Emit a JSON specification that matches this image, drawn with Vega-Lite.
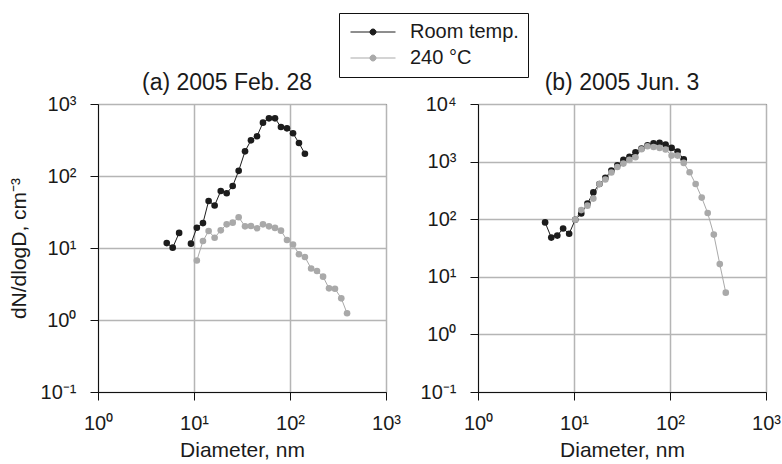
{
  "$schema": "https://vega.github.io/schema/vega-lite/v6.json",
  "padding": {"left": 7, "top": 12, "right": 5, "bottom": 2},
  "background": "white",
  "datasets": {
    "a": [
      {"temp": "Room temp.", "d": 5.2, "n": 11.7},
      {"temp": "Room temp.", "d": 6.0, "n": 10.1},
      {"temp": "Room temp.", "d": 7.0, "n": 16.2},
      {"temp": "Room temp.", "d": 8.1, "n": null},
      {"temp": "Room temp.", "d": 9.3, "n": 11.5},
      {"temp": "Room temp.", "d": 10.7, "n": 19.1},
      {"temp": "Room temp.", "d": 12.4, "n": 22.2},
      {"temp": "Room temp.", "d": 14.2, "n": 45},
      {"temp": "Room temp.", "d": 16.4, "n": 39},
      {"temp": "Room temp.", "d": 19.0, "n": 62},
      {"temp": "Room temp.", "d": 21.9, "n": 57.5},
      {"temp": "Room temp.", "d": 25.3, "n": 72.6},
      {"temp": "Room temp.", "d": 29.2, "n": 118},
      {"temp": "Room temp.", "d": 34.0, "n": 220},
      {"temp": "Room temp.", "d": 39.2, "n": 313},
      {"temp": "Room temp.", "d": 45.3, "n": 356},
      {"temp": "Room temp.", "d": 52.3, "n": 551},
      {"temp": "Room temp.", "d": 60.4, "n": 632},
      {"temp": "Room temp.", "d": 69.8, "n": 632},
      {"temp": "Room temp.", "d": 80.5, "n": 479},
      {"temp": "Room temp.", "d": 93, "n": 459},
      {"temp": "Room temp.", "d": 107.5, "n": 392},
      {"temp": "Room temp.", "d": 124, "n": 287},
      {"temp": "Room temp.", "d": 143, "n": 204},
      {"temp": "240 °C", "d": 10.7, "n": 6.7},
      {"temp": "240 °C", "d": 12.4, "n": 12.5},
      {"temp": "240 °C", "d": 14.2, "n": 17.2},
      {"temp": "240 °C", "d": 16.4, "n": 13.9},
      {"temp": "240 °C", "d": 19.0, "n": 17.6},
      {"temp": "240 °C", "d": 21.9, "n": 21.3},
      {"temp": "240 °C", "d": 25.3, "n": 22.5},
      {"temp": "240 °C", "d": 29.2, "n": 26.7},
      {"temp": "240 °C", "d": 34.0, "n": 20},
      {"temp": "240 °C", "d": 39.2, "n": 20.2},
      {"temp": "240 °C", "d": 45.3, "n": 18.8},
      {"temp": "240 °C", "d": 52.3, "n": 21.3},
      {"temp": "240 °C", "d": 60.4, "n": 20},
      {"temp": "240 °C", "d": 69.8, "n": 19},
      {"temp": "240 °C", "d": 80.5, "n": 17.4},
      {"temp": "240 °C", "d": 93, "n": 12.9},
      {"temp": "240 °C", "d": 107.5, "n": 11.2},
      {"temp": "240 °C", "d": 124, "n": 8.2},
      {"temp": "240 °C", "d": 143, "n": 7.5},
      {"temp": "240 °C", "d": 166, "n": 5.2},
      {"temp": "240 °C", "d": 191, "n": 4.8},
      {"temp": "240 °C", "d": 221, "n": 4.0},
      {"temp": "240 °C", "d": 255, "n": 2.75},
      {"temp": "240 °C", "d": 294, "n": 2.72},
      {"temp": "240 °C", "d": 342, "n": 2.0},
      {"temp": "240 °C", "d": 393, "n": 1.24}
    ],
    "b": [
      {"temp": "Room temp.", "d": 5.0, "n": 88},
      {"temp": "Room temp.", "d": 5.8, "n": 48},
      {"temp": "Room temp.", "d": 6.7, "n": 52},
      {"temp": "Room temp.", "d": 7.7, "n": 69},
      {"temp": "Room temp.", "d": 8.9, "n": 56},
      {"temp": "Room temp.", "d": 10.3, "n": 98},
      {"temp": "Room temp.", "d": 11.9, "n": 126},
      {"temp": "Room temp.", "d": 13.8, "n": 186},
      {"temp": "Room temp.", "d": 15.9, "n": 292},
      {"temp": "Room temp.", "d": 18.4, "n": 409},
      {"temp": "Room temp.", "d": 21.2, "n": 521},
      {"temp": "Room temp.", "d": 24.5, "n": 697},
      {"temp": "Room temp.", "d": 28.3, "n": 863},
      {"temp": "Room temp.", "d": 32.7, "n": 1070},
      {"temp": "Room temp.", "d": 37.8, "n": 1208},
      {"temp": "Room temp.", "d": 43.7, "n": 1452},
      {"temp": "Room temp.", "d": 50.5, "n": 1684},
      {"temp": "Room temp.", "d": 58.3, "n": 1919},
      {"temp": "Room temp.", "d": 67.4, "n": 2080},
      {"temp": "Room temp.", "d": 77.9, "n": 2113},
      {"temp": "Room temp.", "d": 90, "n": 1977},
      {"temp": "Room temp.", "d": 104, "n": 1730},
      {"temp": "Room temp.", "d": 120, "n": 1493},
      {"temp": "Room temp.", "d": 139, "n": 1096},
      {"temp": "240 °C", "d": 10.3, "n": 98},
      {"temp": "240 °C", "d": 11.9, "n": 144},
      {"temp": "240 °C", "d": 13.8, "n": 172},
      {"temp": "240 °C", "d": 15.9, "n": 228},
      {"temp": "240 °C", "d": 18.4, "n": 409},
      {"temp": "240 °C", "d": 21.2, "n": 490},
      {"temp": "240 °C", "d": 24.5, "n": 646},
      {"temp": "240 °C", "d": 28.3, "n": 807},
      {"temp": "240 °C", "d": 32.7, "n": 923},
      {"temp": "240 °C", "d": 37.8, "n": 1069},
      {"temp": "240 °C", "d": 43.7, "n": 1189},
      {"temp": "240 °C", "d": 50.5, "n": 1637},
      {"temp": "240 °C", "d": 58.3, "n": 1845},
      {"temp": "240 °C", "d": 67.4, "n": 1795},
      {"temp": "240 °C", "d": 77.9, "n": 1730},
      {"temp": "240 °C", "d": 90, "n": 1619},
      {"temp": "240 °C", "d": 104, "n": 1271},
      {"temp": "240 °C", "d": 120, "n": 1271},
      {"temp": "240 °C", "d": 139, "n": 948},
      {"temp": "240 °C", "d": 160, "n": 652},
      {"temp": "240 °C", "d": 185, "n": 409},
      {"temp": "240 °C", "d": 214, "n": 237},
      {"temp": "240 °C", "d": 247, "n": 128},
      {"temp": "240 °C", "d": 286, "n": 54},
      {"temp": "240 °C", "d": 330, "n": 16.6},
      {"temp": "240 °C", "d": 381, "n": 5.3}
    ]
  },
  "bounds": "flush",
  "spacing": 92,
  "hconcat": [
    {
      "width": 288,
      "height": 288,
      "data": {"name": "a"},
      "title": {"text": "(a) 2005 Feb. 28", "dx": -15},
      "mark": {"type": "line", "strokeWidth": 1, "invalid": "break-paths-show-domains", "point": {"filled": true, "size": 44, "opacity": 1}},
      "encoding": {
        "x": {"field": "d", "type": "quantitative", "scale": {"type": "log", "domain": [1, 1000]}, "axis": {"values": [1, 10, 100, 1000], "title": "Diameter, nm"}},
        "y": {"field": "n", "type": "quantitative", "scale": {"type": "log", "domain": [0.1, 1000]}, "axis": {"values": [0.1, 1, 10, 100, 1000], "title": "dN/dlogD, cm⁻³", "titleX": -79, "titleBaseline": "middle"}},
        "color": {"field": "temp", "type": "nominal", "scale": {"domain": ["Room temp.", "240 °C"], "range": ["#1c1c1c", "#a9a9a9"]},
          "legend": {"title": null, "orient": "none", "legendX": 241, "legendY": -91}}
      }
    },
    {
      "width": 288,
      "height": 288,
      "data": {"name": "b"},
      "title": {"text": "(b) 2005 Jun. 3"},
      "mark": {"type": "line", "strokeWidth": 1, "point": {"filled": true, "size": 44, "opacity": 1}},
      "encoding": {
        "x": {"field": "d", "type": "quantitative", "scale": {"type": "log", "domain": [1, 1000]}, "axis": {"values": [1, 10, 100, 1000], "title": "Diameter, nm"}},
        "y": {"field": "n", "type": "quantitative", "scale": {"type": "log", "domain": [0.1, 10000]}, "axis": {"values": [0.1, 1, 10, 100, 1000, 10000], "title": null}},
        "color": {"field": "temp", "type": "nominal", "scale": {"domain": ["Room temp.", "240 °C"], "range": ["#1c1c1c", "#a9a9a9"]}}
      }
    }
  ],
  "config": {
    "font": "Liberation Sans",
    "view": {"stroke": "#111", "strokeWidth": 1},
    "title": {"fontSize": 23, "font": "Liberation Sans", "fontWeight": "normal", "color": "#1a1a1a", "offset": -1, "anchor": "middle"},
    "axis": {
      "domainColor": "#111", "domainWidth": 1, "tickColor": "#111", "tickSize": 8, "tickWidth": 1,
      "gridColor": "#b5b5b5", "gridWidth": 1.5,
      "labelFont": "Liberation Sans", "labelFontSize": 20, "labelColor": "#1a1a1a",
      "labelExpr": "'10' + ['⁻¹','⁰','¹','²','³','⁴'][round(log(datum.value)/LN10)+1]",
      "titleFont": "Liberation Sans", "titleFontSize": 21, "titleFontWeight": "normal", "titleColor": "#1a1a1a",
      "labelFlush": false, "labelOverlap": false
    },
    "axisX": {"titlePadding": 6, "labelPadding": 13},
    "axisY": {"labelPadding": 14},
    "legend": {
      "strokeColor": "#111", "padding": 9, "labelFontSize": 20, "labelFont": "Liberation Sans", "labelColor": "#1a1a1a",
      "symbolType": "M-1,0H5M1.6,0A0.4,0.4,0,1,1,2.4,0A0.4,0.4,0,1,1,1.6,0Z",
      "symbolSize": 225, "symbolStrokeWidth": 1, "labelOffset": 42, "rowPadding": 6
    }
  }
}
